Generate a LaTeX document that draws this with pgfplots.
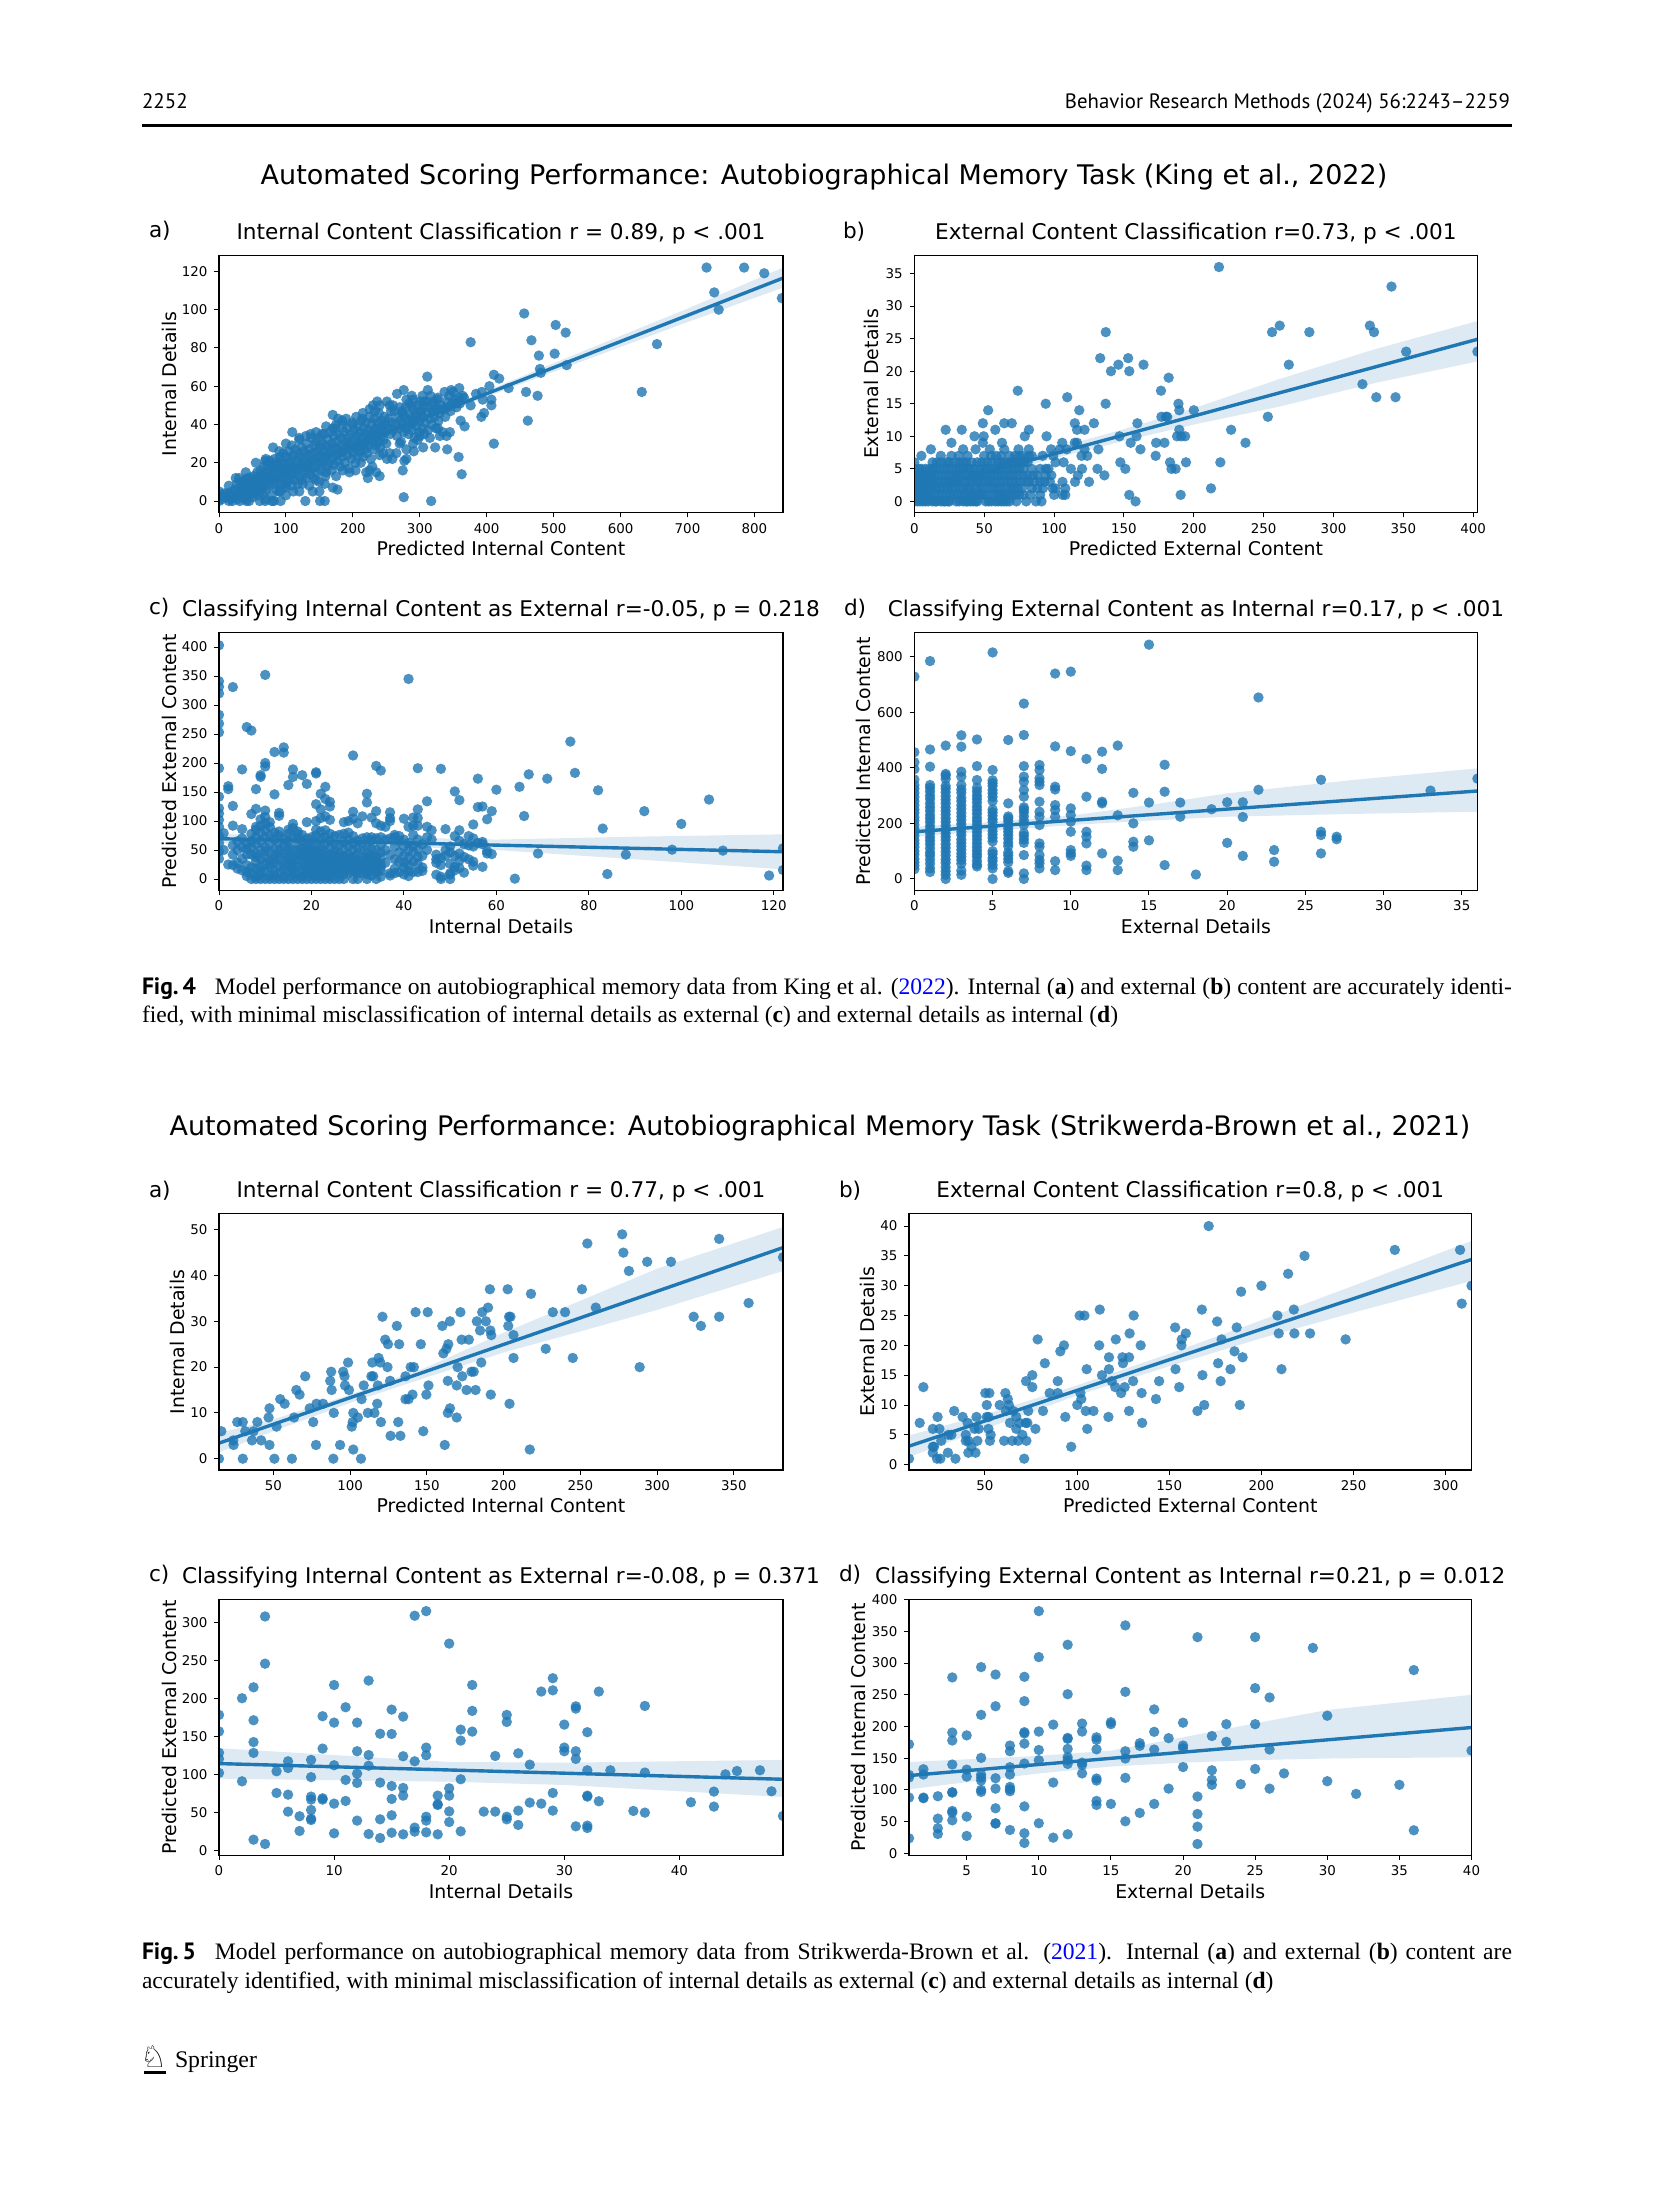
\documentclass[border=0pt]{standalone}
\usepackage{fontspec}
\usepackage{xcolor}
\usepackage{pgfplots}
\pgfplotsset{compat=1.18}
\setmainfont{DejaVu Sans}
\newfontfamily\capfont{Liberation Serif}
\newfontfamily\headfont{PT Sans}
\definecolor{sb}{HTML}{1F77B4}

% 1 reference pixel = 0.5pt
\pgfplotsset{
  sbax/.style={
    scale only axis,
    anchor=north west,
    axis on top,
    clip marker paths=true,
    tick align=outside,
    tick pos=left,
    major tick length=2.3pt,
    tick style={black,line width=0.5pt},
    axis line style={line width=0.6pt},
    /pgf/number format/assume math mode=true,
    tick label style={font=\fontsize{6.7}{8}\selectfont},
    xticklabel style={yshift=0.5pt},
    label style={font=\fontsize{9.45}{11}\selectfont},
    title style={font=\fontsize{10.8}{13}\selectfont,anchor=base,yshift=8pt},
    every axis title shift=0pt,
    xlabel style={at={(axis description cs:0.5,-0.167)},anchor=base},
  },
  pts/.style={only marks,mark=*,mark size=2.6pt,mark options={draw=sb,draw opacity=0,line width=0pt,fill=sb,fill opacity=0.8}},
  band/.style={draw=none,fill=sb,fill opacity=0.15,no marks},
  fit/.style={draw=sb,line width=1.7pt,no marks},
}

\begin{document}
\begin{tikzpicture}
\fill[white] (0,0) rectangle (827pt,-1098.5pt);
\path[use as bounding box] (0,0) rectangle (827pt,-1098.5pt);

% Fig 4 a
\begin{axis}[sbax,at={(109.5pt,-127.65pt)},width=282pt,height=128.7pt,
  xmin=0,xmax=842.7,ymin=-6.1,ymax=128.4,
  xtick={0,100,...,800},ytick={0,20,...,120},
  title={Internal Content Classification r = 0.89, p < .001},
  xlabel={Predicted Internal Content},ylabel={Internal Details},
  ylabel style={at={(axis description cs:-0.0762,0.5)},anchor=base}]
\addplot[pts] coordinates {
(728.5,122)(784.6,122)(814.7,119)(740,109)(841,106)(746.6,100)(456,98)(503,92)(518,88)(376,83)(466.8,84)(654.4,82)(478,76)(501.5,77)(519.5,71)(479.5,69)(480.8,67)(410.7,66)(418.7,64)(311.2,65)(432.7,59)(404,60)(458.8,57)(631.7,57)(476,55)(461.4,42)(410.7,30)(396,46)(392,44)(407,53)(407,50)(394,53)(384,56)(392.7,57)(359,59)(347,58)(337,57)(376,50)(366,54)(354,51)(361,42)(367,39)(345,36)(340,34)(330,34)(323,28)(341,27)(358,23)(362.6,14)(291,26)(277,21)(274.5,16)(276,2)(317,0)(240,13)(222.4,12)(225,16)(229,18)(251,22)(259,22)(270,30)(297,32)(307,35)(327,38)(276,58)(266,56)(288,55)(251,52)(236.4,52)(230,50)(233,47)(312,58)(304,55)(327,54)(320.5,52)(310,52)(307,50)(280,53)(287,50)(260,50)(257,47)(274,47)(300,47)(330,48)(320,47)(184,42)(170,45)(178,43)(200,40)(214,43)(170,38)(109.5,36)(137,35)(120,32)(153.6,35)(80.8,28)(108.8,29)(14.7,8)(25,12)(43,12)
(0,5)(0,0)(15,0)(20,0)(31,0)(41,0)(45,0)(61,0)(69,0)(79,0)(82,0)(92,0)(129,0)(151,0)(158,0)(140,5)(111,5)(90,5)(177,6)(170,7)(158,9)(150,10)
(100,8)(120,5)(125,9)(135,8)(145,11)(160,15)(175,13)(185,16)(195,15)(204,16)(212,20)(220,15)(150,5)(100,3)(70,1)(60,10)(40,15)(30,12)(55,20)(70,22)(90,26)(100,30)(120,33)(130,34)(145,36)(160,39)(175,40)(190,43)(205,44)(215,46)(225,48)(240,50)(255,50)(235,15)(240,24)(255,25)(265,25)(280,27)(290,30)(305,28)(315,33)(300,34)(270,49)(290,53)(300,52)(280,22)
(2,3)(5,1)(8,4)(10,2)(13,4)(16,3)(18,1)(20,5)(22,2)(24,6)(26,3)(27,9)(28,1)(30,7)(32,4)(33,10)(35,2)(36,8)(38,5)(39,11)(40,1)(42,9)(43,6)(44,3)(46,12)(47,8)(48,5)(49,10)(50,2)
(51,7)(52,13)(53,4)(54,9)(55,11)(56,6)(57,15)(58,3)(59,8)(60,12)(61,5)(62,16)(63,10)(64,7)(65,14)(66,4)(67,18)(68,11)(69,21)(70,9)(71,6)(72,15)(73,19)(74,13)(75,8)(76,21)(77,17)(78,11)(79,3)(80,14)(81,19)(82,9)(83,22)(84,16)(85,12)(86,6)(87,20)(88,10)(89,18)(90,14)
(91,5)(91,23)(92,12)(93,17)(94,21)(95,9)(96,25)(97,15)(98,19)(99,7)(100,13)(101,23)(102,10)(103,17)(104,26)(105,20)(106,12)(107,15)(108,22)(109,8)(110,18)(111,24)(112,14)(113,11)(114,27)(115,19)(116,16)(117,21)(118,9)(119,25)(120,13)(121,17)(122,23)(123,28)(124,11)(125,20)(126,15)(127,26)(128,18)(129,22)(130,12)
(131,30)(132,16)(133,24)(134,19)(135,27)(136,14)(137,21)(138,33)(139,17)(140,25)(141,12)(142,22)(143,29)(144,18)(145,31)(146,15)(147,26)(148,20)(149,23)(150,33)(151,28)(152,16)(153,24)(154,19)(155,30)(156,21)(157,35)(158,26)(159,13)(160,29)(161,23)(162,18)(163,32)(164,25)(165,20)(166,36)(167,27)(168,16)(169,30)(170,22)
(171,34)(172,19)(173,28)(174,38)(175,24)(176,31)(177,21)(178,27)(179,35)(180,25)(181,18)(182,33)(183,29)(184,23)(185,40)(186,26)(187,36)(188,20)(189,31)(190,28)(191,38)(192,24)(193,33)(194,17)(195,30)(196,27)(197,35)(198,22)(199,41)(200,29)(201,25)(202,37)(203,32)(204,20)(205,28)(206,34)(207,39)(208,24)(209,31)(210,26)
(211,36)(212,29)(213,42)(214,33)(215,23)(216,38)(217,30)(218,27)(219,35)(220,41)(221,25)(222,32)(223,37)(224,29)(225,44)(226,34)(227,22)(228,40)(229,31)(230,36)(231,27)(232,43)(233,33)(234,38)(235,29)(236,35)(237,41)(238,31)(239,46)(240,37)(241,28)(242,34)(243,42)(244,39)(245,25)(246,32)(247,44)(248,36)(249,40)(250,30)
(252,38)(254,43)(256,35)(258,41)(260,37)(262,47)(264,40)(266,34)(268,44)(270,38)(271,42)(272,31)(274,46)(275,40)(276,36)(278,44)(279,49)(280,38)(282,42)(283,35)(284,51)(285,45)(286,40)(288,37)(289,43)(290,48)(291,41)(292,33)(294,46)(295,39)(296,44)(298,50)(299,36)(300,42)
(302,47)(304,38)(305,44)(306,52)(308,41)(310,46)(312,37)(313,49)(315,43)(316,55)(318,40)(319,47)(320,51)(322,44)(324,38)(325,48)(326,53)(328,42)(330,46)(332,50)(334,36)(336,48)(338,44)(340,52)(342,49)(344,55)(346,47)(348,51)(350,57)(352,53)(355,49)(358,54)(360,51)(364,55)
};
\addplot[band] coordinates {(0,2.8)(100,16)(200,29.6)(300,43.4)(400,57.6)(500,72)(600,86.3)(700,100.5)(842.7,122)(842.7,111.5)(700,93.5)(600,80.5)(500,67.5)(400,54.5)(300,41.4)(200,27.9)(100,14.2)(0,0.2)};
\addplot[fit] coordinates {(0,1.5)(842.7,116.5)};
\end{axis}

% Fig 4 b
\begin{axis}[sbax,at={(457.2pt,-127.65pt)},width=281.5pt,height=128.7pt,
  xmin=0,xmax=403,ymin=-1.74,ymax=37.8,
  xtick={0,50,...,400},ytick={0,5,...,35},
  title={External Content Classification r=0.73, p < .001},
  xlabel={Predicted External Content},ylabel={External Details},
  ylabel style={at={(axis description cs:-0.064,0.5)},anchor=base}]
\addplot[pts] coordinates {
(218,36)(341.5,33)(326,27)(261.5,27)(256,26)(282.7,26)(329,26)(137,26)(352,23)(403,23)(133,22)(153,22)(146,21)(164,21)(268,21)(140.7,20)(153.8,20)(182,19)(320.7,18)(74,17)(176.5,17)(109.4,16)(330.6,16)(344.4,16)(94,15)(136.9,15)(189,15)(52.8,14)(118,14)(189.6,14)(200,14)(176.8,13)(180,13)(181,13)(253,13)(49,12)(64.3,12)(69.7,12)(114.8,12)(128.5,12)(159.6,12)(22.4,11)(33.9,11)(57.9,11)(82,11)(116.4,11)(121.8,11)(189.6,11)(226.7,11)(43,10)(49.6,10)(79,10)(94.6,10)(146.8,10)(159,10)(188,10)(191,10)(193.8,10)
(26.5,9)(49,9)(62.7,9)(105.8,9)(114.8,9)(116.4,9)(154.8,9)(173,9)(179,9)(237,9)
(11.8,8)(34.9,8)(43.8,8)(54,8)(64.3,8)(74.5,8)(81.9,8)(97.8,8)(104,8)(109,8)(121.8,8)(131.7,8)(161.8,8)
(5,7)(18.9,7)(26.5,7)(31.7,7)(49.9,7)(58.5,7)(72,7)(77.7,7)(81.9,7)(91.8,7)(99.4,7)(119.6,7)(123.7,7)(172.7,7)(38,7)(55,7)(62,7)(68,7)(75,7)(84,7)
(0,6)(13,6)(23,6)(32,6)(48,6)(59.5,6)(67.5,6)(78.7,6)(101,6)(106.8,6)(147.4,6)(183,6)(194.4,6)(219,6)(16,6)(19,6)(25,6)(29,6)(35,6)(37,6)(41,6)(45,6)(52,6)(55,6)(62,6)(64,6)(70,6)(72,6)(75,6)(81,6)
(0,5)(3,5)(5,5)(8,5)(11,5)(13,5)(15,5)(18,5)(21,5)(24,5)(27,5)(30,5)(33,5)(35,5)(38,5)(40,5)(43,5)(47,5)(50,5)(52,5)(56,5)(59,5)(62,5)(66,5)(69,5)(72,5)(75,5)(78,5)(84,5)(90,5)(94,5)(96,5)(112,5)(120,5)(131,5)(151,5)(184,5)(187,5)
(0,4)(2,4)(4,4)(6,4)(8,4)(10,4)(12,4)(14,4)(17,4)(20,4)(23,4)(26,4)(29,4)(31,4)(34,4)(37,4)(41,4)(44,4)(46,4)(48,4)(51,4)(54,4)(57,4)(60,4)(63,4)(65,4)(68,4)(71,4)(74,4)(78,4)(81,4)(85,4)(88,4)(94,4)(98,4)(117,4)(136,4)
(0,3)(1,3)(3,3)(5,3)(7,3)(9,3)(11,3)(13,3)(16,3)(19,3)(22,3)(25,3)(28,3)(30,3)(32,3)(36,3)(39,3)(42,3)(45,3)(47,3)(50,3)(53,3)(55,3)(58,3)(61,3)(64,3)(67,3)(70,3)(73,3)(76,3)(80,3)(82,3)(86,3)(90,3)(93,3)(97,3)(106,3)(115,3)(125,3)
(0,2)(2,2)(4,2)(6,2)(8,2)(10,2)(12,2)(15,2)(18,2)(21,2)(24,2)(27,2)(29,2)(33,2)(35,2)(38,2)(40,2)(44,2)(47,2)(49,2)(54,2)(56,2)(60,2)(62,2)(66,2)(69,2)(71,2)(74,2)(77,2)(84,2)(88,2)(92,2)(99,2)(101,2)(108,2)(212.3,2)
(0,1)(1,1)(3,1)(5,1)(7,1)(9,1)(11,1)(14,1)(17,1)(20,1)(23,1)(26,1)(28,1)(31,1)(34,1)(36,1)(39,1)(41,1)(43,1)(46,1)(48,1)(50,1)(52,1)(57,1)(59,1)(61,1)(63,1)(65,1)(67,1)(70,1)(72,1)(75,1)(78,1)(83,1)(90,1)(100,1)(106,1)(108,1)(153.8,1)(190.6,1)
(0,0)(2,0)(4,0)(6,0)(8,0)(10,0)(13,0)(15,0)(16,0)(19,0)(21,0)(22,0)(24,0)(25,0)(30,0)(32,0)(35,0)(37,0)(38,0)(40,0)(42,0)(44,0)(45,0)(51,0)(53,0)(55,0)(58,0)(60,0)(62,0)(64,0)(66,0)(68,0)(73,0)(80,0)(87,0)(91,0)(158.3,0)
};
\addplot[band] coordinates {(0,2.4)(100,8.1)(150,11.1)(200,14.3)(260,18.7)(330,23.4)(403,27.7)(403,21.5)(330,18.2)(260,14.5)(200,11.8)(150,9.3)(100,6.6)(0,0.6)};
\addplot[fit] coordinates {(0,1.5)(403,24.9)};
\end{axis}

% Fig 4 c
\begin{axis}[sbax,at={(109.5pt,-316.35pt)},width=282pt,height=128.8pt,
  xmin=0,xmax=122,ymin=-19.5,ymax=424.7,
  xtick={0,20,...,120},ytick={0,50,...,400},
  title={Classifying Internal Content as External r=-0.05, p = 0.218},
  xlabel={Internal Details},ylabel={Predicted External Content},
  ylabel style={at={(axis description cs:-0.0762,0.5)},anchor=base}]
\addplot[pts] coordinates {
(0,403)(0,341)(0,331.6)(0,320)(0,283)(0,268)(0,253)(0,191)(0,142)(0,122)(0,113)(0,102)(10,352)(3,331)(6,262)(7,256)(41,345)(14,227)(14,218)(12,219)(29,213)(10,200)(10,194)(5,189)(9,179)(9,176)(16,189)(16,176)(18,179)(21,184)(21,182)(34,195)(35,187)(43,191)(48,190)(76,237)(77,183)(67,180.5)(71,173)(56,173)(65,159)(60,154)(82,153)(106,137)(51,151)(52,136)(45,134)(92,117)(66,108.6)(100,95)(83,87)(59,117)(58,103)(57,125)(56,124)(55,94)(49,86)(43,120)(2,160)(2,155)(8,155)(15,162)(19,164)(23,159)(12,146)(22,147)(32,147)(32,132)(24,133)(23,138)(3,126)(21,129)(22,120)(24,125)(8,121)(10,118)(7,112)(13,114)(13,109)(29,116)(34,117)(37,115)(37,105)(3,92)(5,86)(1,79)(88,42)(69,44)(98,50.6)(109,49)(122,53)(119,6)(122,15.5)(84,8.6)(64,0.6)(57,21)(55,23)(53,11)(52,19)(51,21)(50,7.5)(50,0)(48,0)(47,7.5)
(0,35)(0,48)(0,62)(0,75)(0,90)(1,50)(2,25)(3,24)(3,42)(3,58)(4,18)(4,28)(4,50)(4,65)(5,15)(5,35)(5,55)(5,70)(6,5)(6,12)(6,24)(6,42)(6,52)(6,60)
(7,0)(7,10)(7,20)(7,42)(7,55)(7,65)(7,78)(8,0)(8,5)(8,18)(8,30)(8,44)(8,60)(8,72)(8,85)(8,90)(9,0)(9,8)(9,22)(9,35)(9,50)(9,65)(9,80)(9,92)(9,103)
(10,0)(10,12)(10,25)(10,38)(10,55)(10,72)(10,85)(10,96)(10,107)(11,0)(11,6)(11,20)(11,32)(11,46)(11,60)(11,75)(11,90)(11,98)(12,0)(12,14)(12,28)(12,40)(12,52)(12,68)(12,80)
(13,0)(13,10)(13,22)(13,36)(13,50)(13,62)(13,75)(13,82)(14,0)(14,5)(14,16)(14,30)(14,44)(14,58)(14,70)(15,0)(15,12)(15,26)(15,40)(15,55)(15,65)(15,78)(15,85)
(16,0)(16,8)(16,20)(16,36)(16,50)(16,72)(16,88)(16,95)(17,0)(17,42)(17,60)(17,70)(17,78)(17,82)(18,0)(18,5)(18,15)(18,30)(18,40)(18,52)(18,66)(18,76)
(19,0)(19,10)(19,22)(19,34)(19,46)(19,58)(19,70)(19,98)(20,0)(20,8)(20,18)(20,28)(20,38)(20,50)(20,62)(20,72)(21,0)(21,12)(21,24)(21,36)(21,48)(21,60)(21,75)(21,85)(21,100)
(22,0)(22,6)(22,16)(22,28)(22,42)(22,56)(22,70)(22,82)(22,105)(23,0)(23,10)(23,22)(23,34)(23,46)(23,60)(23,72)(23,84)(23,108)(24,0)(24,5)(24,18)(24,30)(24,42)(24,54)(24,66)(24,78)(24,102)
(25,0)(25,12)(25,26)(25,38)(25,48)(25,60)(25,74)(26,0)(26,8)(26,20)(26,32)(26,44)(26,58)(26,76)(27,0)(27,16)(27,28)(27,40)(27,52)(27,64)(27,78)(27,98)(28,10)(28,22)(28,36)(28,42)(28,56)(28,68)(28,80)(28,100)
(29,0)(29,14)(29,26)(29,38)(29,50)(29,62)(29,74)(29,104)(30,0)(30,10)(30,22)(30,32)(30,44)(30,54)(30,66)(30,96)(31,18)(31,30)(31,42)(31,58)(31,70)(31,108)(32,0)(32,8)(32,20)(32,32)(32,44)(32,56)(32,72)
(33,6)(33,16)(33,28)(33,40)(33,52)(33,66)(33,72)(33,106)(34,0)(34,12)(34,24)(34,38)(34,50)(34,70)(34,96)(35,4)(35,14)(35,26)(35,46)(35,60)(35,72)(35,92)(36,28)(36,50)(36,68)(36,90)(37,6)(37,10)(37,42)(37,70)(37,100)
(38,10)(38,18)(38,34)(38,56)(38,72)(38,76)(39,12)(39,30)(39,46)(39,66)(39,74)(40,8)(40,20)(40,28)(40,40)(40,56)(40,68)(40,104)(41,5)(41,14)(41,24)(41,36)(41,50)(41,62)(41,90)(42,12)(42,30)(42,46)(42,58)(42,76)(42,92)(42,106)
(43,12)(43,26)(43,38)(43,52)(43,68)(43,92)(43,105)(44,14)(44,20)(44,40)(44,60)(45,50)(45,72)(45,90)(46,68)(46,84)(47,28)(47,34)(47,42)(48,4)(48,24)(48,36)(49,40)(49,50)(50,10)(50,26)(50,46)(50,56)
(51,15)(51,40)(51,74)(52,32)(52,44)(52,66)(52,84)(53,38)(53,60)(54,34)(54,58)(54,74)(55,30)(55,56)(55,70)(56,62)(57,60)(57,64)(58,44)(58,48)(59,43)
(8,38)(9,14)(10,48)(11,26)(12,7)(12,34)(13,44)(14,23)(15,33)(15,48)(16,14)(16,28)(17,8)(17,22)(17,34)(17,50)(18,23)(18,46)(19,16)(19,40)(19,52)(20,13)(20,33)(20,44)(21,6)(21,30)(21,42)(22,22)(22,36)(22,48)(23,16)(23,28)(23,40)(24,12)(24,24)(24,36)(25,18)(25,32)(25,43)(26,14)(26,26)(26,38)(27,8)(27,22)(27,34)(28,16)(28,30)(29,20)(29,32)(30,16)(30,27)(31,10)(31,24)(32,14)(32,26)(32,38)(33,22)(33,34)(34,18)(34,30)(35,20)(35,36)
};
\addplot[band] coordinates {(0,77.6)(30,73)(60,68)(90,73)(122,77)(122,16.7)(90,34)(60,50)(30,58.6)(0,61.5)};
\addplot[fit] coordinates {(0,69.5)(122,47)};
\end{axis}

% Fig 4 d
\begin{axis}[sbax,at={(457.2pt,-316.35pt)},width=281.5pt,height=128.8pt,
  xmin=0,xmax=36,ymin=-40.8,ymax=886,
  xtick={0,5,...,35},ytick={0,200,...,800},
  title={Classifying External Content as Internal r=0.17, p < .001},
  xlabel={External Details},ylabel={Predicted Internal Content},
  ylabel style={at={(axis description cs:-0.078,0.5)},anchor=base}]
\addplot[pts] coordinates {
(0,728)(0,456)(0,420)(0,395)(0,358)(0,35)(0,48)(0,60)(0,72)(0,88)(0,100)(0,115)(0,128)(0,140)(0,155)(0,168)(0,180)(0,195)(0,210)(0,222)(0,238)(0,250)(0,265)(0,280)(0,295)(0,310)(0,325)(0,338)
(1,784)(1,466)(1,404)(1,25)(1,38)(1,55)(1,70)(1,85)(1,95)(1,110)(1,125)(1,138)(1,150)(1,165)(1,178)(1,190)(1,205)(1,218)(1,230)(1,245)(1,258)(1,272)(1,288)(1,300)(1,315)(1,328)(1,338)
(2,480)(2,0)(2,15)(2,28)(2,42)(2,58)(2,70)(2,85)(2,98)(2,112)(2,125)(2,140)(2,152)(2,165)(2,178)(2,192)(2,205)(2,218)(2,232)(2,245)(2,258)(2,272)(2,285)(2,298)(2,312)(2,325)(2,335)(2,360)(2,372)(2,378)
(3,517)(3,476)(3,386)(3,368)(3,15)(3,30)(3,55)(3,68)(3,80)(3,92)(3,105)(3,118)(3,130)(3,142)(3,158)(3,170)(3,185)(3,198)(3,212)(3,225)(3,238)(3,252)(3,265)(3,280)(3,292)(3,310)(3,322)(3,338)
(4,502)(4,406)(4,356)(4,45)(4,52)(4,65)(4,80)(4,90)(4,102)(4,115)(4,128)(4,142)(4,155)(4,168)(4,180)(4,195)(4,208)(4,220)(4,235)(4,248)(4,260)(4,275)(4,288)(4,300)(4,315)(4,328)
(5,815)(5,392)(5,0)(5,38)(5,50)(5,65)(5,75)(5,90)(5,100)(5,135)(5,148)(5,160)(5,172)(5,185)(5,205)(5,215)(5,228)(5,240)(5,250)(5,280)(5,295)(5,308)(5,320)(5,335)(5,345)(5,355)
(6,500)(6,272)(6,22)(6,28)(6,60)(6,72)(6,85)(6,95)(6,118)(6,130)(6,145)(6,158)(6,170)(6,182)(6,195)(6,208)(6,218)(6,225)
(7,631)(7,518)(7,406)(7,368)(7,350)(7,320)(7,296)(7,86)(7,20)(7,0)(7,130)(7,142)(7,155)(7,165)(7,195)(7,210)(7,225)(7,240)(7,250)(7,258)
(8,410)(8,392)(8,362)(8,350)(8,338)(8,278)(8,242)(8,224)(8,194)(8,128)(8,116)(8,86)(8,68)(8,56)(8,38)
(9,739)(9,477)(9,332)(9,322)(9,266)(9,248)(9,224)(9,64)(9,32)
(10,746)(10,460)(10,254)(10,230)(10,206)(10,170)(10,104)(10,92)(10,83)
(11,432)(11,296)(11,170)(11,152)(11,128)(11,48)(11,32)
(12,458)(12,396)(12,278)(12,272)(12,92)
(13,480)(13,229)(13,66)(13,32)
(14,310)(14,200)(14,134)(14,116)
(15,843)(15,275)(15,139)
(16,411)(16,314)(16,50)
(17,275)(17,224)(18,16)(19,251)(20,276)(20,130)(21,276)(21,223)(21,83)(22,653)(22,321)(23,104)(23,62)
(26,357)(26,170)(26,158)(26,92)(27,152)(27,143)(33,318)(36,361)
};
\addplot[band] coordinates {(0,188)(5,205)(10,228)(15,266)(20,308)(28,356)(36,398)(36,242)(28,234)(20,224)(15,210)(10,194)(5,173)(0,152)};
\addplot[fit] coordinates {(0,170)(36,316.5)};
\end{axis}

% Fig 5 a
\begin{axis}[sbax,at={(109.5pt,-606.85pt)},width=282pt,height=128.15pt,
  xmin=14.5,xmax=382,ymin=-2.47,ymax=53.5,
  xtick={50,100,...,350},ytick={0,10,...,50},
  title={Internal Content Classification r = 0.77, p < .001},
  xlabel={Predicted Internal Content},ylabel={Internal Details},
  ylabel style={at={(axis description cs:-0.062,0.5)},anchor=base}]
\addplot[pts] coordinates {
(14.5,0)(30,0)(50.6,0)(62,0)(89,0)(107,0)(16,6)(23.8,4)(24,3)(26.4,8)(30,8)(31.6,6)(37,6)(36,4)(42,4)(39.5,8)(47.4,3)(46.8,9)(47.4,11)(52,7)(54.4,13)(57.3,12)(63.4,9)(64.9,15)(67,14)(70.7,18)(73.6,11)(75.9,8)(77.7,3)(78,12)(82.3,12)(87,17)(87.6,19)(87.9,15)(89.3,10)(93.4,3)(95.4,19)(96.3,18)(96.6,16)(98.6,21)(99.2,15)(101,7)(101.6,8)(102,2)(102,10)(105,9)(107.4,13)(108.8,16)(111.5,10)(113.8,18)(115,18)(114.4,21)(115.8,10)(117.6,12)(118,16)(118.5,22)(119.6,21)(120,8)(121,31)(122.8,26)(124.6,25)(124.3,20)(126,17)(126.3,5)(130.4,29)(131.3,8)(131.9,25)(132.7,5)(136,18)(136,13)(138,13)(139.4,20)(140.6,14)(141.5,20)(142.6,32)(146,25)(147.6,6)(149.6,14)(150.5,32)(151,16)(160,29)(160.7,23)(161.6,3)(162.7,24)(163.9,25)(163.6,17)(163.6,10)(165,30)(165,11)(169.4,16)(169.4,9)(170,20)(171.8,32)(172.6,26)(173,18)(175.8,15)(177.3,26)(179,19)(180.5,19)(181.7,15)(182.5,30)(184.6,28)(185.4,21)(186,32)(188.4,30)(189.8,33)(191,37)(191.3,28)(191.9,27)(191.6,14)(202.6,37)(203,29)(203.5,31)(203.8,12)(204.4,31)(206.4,27)(206.4,22)(217,2)(217.8,36)(227.4,24)(232,32)(240,32)(245,22)(251,37)(254.5,47)(260,33)(277.2,49)(278,45)(281.6,41)(288.6,20)(293.5,43)(309,43)(323.8,31)(328.5,29)(340.4,48)(340.4,31)(359.6,34)(382,44)
};
\addplot[band] coordinates {(14.5,5.6)(50,8.6)(100,14)(150,20)(200,27.5)(250,34.5)(300,41.5)(382,50.6)(382,41)(300,32.5)(250,27.8)(200,23.2)(150,17.8)(100,12.2)(50,6)(14.5,1.4)};
\addplot[fit] coordinates {(14.5,3.4)(382,46.1)};
\end{axis}

% Fig 5 b
\begin{axis}[sbax,at={(454.5pt,-606.85pt)},width=281.25pt,height=128.15pt,
  xmin=8.8,xmax=314,ymin=-0.9,ymax=42.07,
  xtick={50,100,...,300},ytick={0,5,...,40},
  title={External Content Classification r=0.8, p < .001},
  xlabel={Predicted External Content},ylabel={External Details},
  ylabel style={at={(axis description cs:-0.0605,0.5)},anchor=base}]
\addplot[pts] coordinates {
(8.8,1)(14.6,7)(16.6,13)(21.7,2)(21.7,3)(22.4,3)(21.7,6)(25.3,6)(24.3,8)(24,1)(25.8,1)(26.3,4)(29.9,2)(30.1,5)(31.8,5)(33.3,9)(34,1)(37.9,8)(39.6,5)(39.6,4)(40.6,7)(41,4)(41,2)(42.7,3)(44.9,2)(44.4,6)(45.4,8)(45.9,4)(46.6,6)(50.2,12)(51,10)(51,8)(52,8)(51.9,6)(52.4,12)(52.7,4)(53.1,5)(58,10)(60.4,4)(61.1,12)(61.4,9)(62.4,11)(63,10)(63.6,7)(64.8,4)(65.3,9)(67,6)(67,8)(68,4)(68.7,7)(70.3,5)(71.3,1)(72,7)(72.3,14)(72.5,4)(73,7)(73.5,9)(75.7,13)(75.7,15)(77.4,6)(78.6,21)(81.5,9)(82.5,17)(85.1,12)(89.5,14)(89.5,12)(90.9,19)(92.9,20)(93.6,8)(96.8,3)(100.1,10)(101.4,25)(101.8,12)(102.3,11)(104,25)(104.7,9)(105.2,16)(105.5,6)(108.9,9)(112,20)(112.3,26)(113.5,15)(117,8)(117.3,16)(117.3,18)(118.8,14)(120.7,13)(121,21)(123.9,12)(124.6,18)(124.9,17)(125.8,13)(128.2,18)(128.2,9)(128.5,22)(130.4,14)(130.7,25)(134.5,20)(135,12)(135.3,7)(142.8,11)(144.5,14)(153.2,23)(153.4,16)(155.4,13)(156.6,20)(156.8,21)(159,22)(165.3,9)(167.7,26)(168,15)(169,10)(171.4,40)(176,24)(176.5,17)(177.9,14)(178.4,21)(183.2,16)(185.4,19)(186.6,23)(188.3,10)(189,29)(189.8,18)(200,30)(208.7,25)(209.4,22)(210.9,16)(214.5,32)(217.6,26)(217.9,22)(223.4,35)(226.4,22)(245.7,21)(272.4,36)(307.8,36)(308.7,27)(314,30)
};
\addplot[band] coordinates {(8.8,4.9)(50,8.4)(100,13.3)(150,18.6)(200,24.2)(250,30)(314,37.5)(314,30.8)(250,25.5)(200,21.2)(150,16.5)(100,11.6)(50,6)(8.8,1.3)};
\addplot[fit] coordinates {(8.8,3.1)(314,34.4)};
\end{axis}

% Fig 5 c
\begin{axis}[sbax,at={(109.5pt,-799.85pt)},width=282pt,height=127.8pt,
  xmin=0,xmax=49,ymin=-5.7,ymax=330,
  xtick={0,10,...,40},ytick={0,50,...,300},
  title={Classifying Internal Content as External r=-0.08, p = 0.371},
  xlabel={Internal Details},ylabel={Predicted External Content},
  ylabel style={at={(axis description cs:-0.0762,0.5)},anchor=base}]
\addplot[pts] coordinates {
(0,178.7)(0,157)(0,129)(0,121)(0,102.5)(2,200.6)(2,91.5)(3,215)(3,171.7)(3,143)(3,128.8)(3,14.9)(4,308)(4,246)(4,9.2)(5,104.7)(5,76.2)(6,117.8)(6,109)(6,74)(6,51.7)(7,45.6)(7,26.3)(8,119.6)(8,97)(8,71.4)(8,67.5)(8,53.9)(8,42.5)(8,40.7)(9,177)(9,134.5)(9,69.2)(9,67.5)(10,218)(10,168.6)(10,112.6)(10,62.2)(10,23.2)(11,188.8)(11,93.3)(11,65.7)(12,168.6)(12,131)(12,101.6)(12,89.4)(12,39.9)(13,223.8)(13,126)(13,112)(13,22.3)(14,154)(14,89.8)(14,41.6)(14,17)(15,185.7)(15,153.7)(15,85.4)(15,68.3)(15,46.9)(15,24)(16,176.5)(16,124.4)(16,82.8)(16,72.7)(16,21.9)(17,309)(17,117.8)(17,30.7)(17,25.4)(18,315)(18,135.8)(18,125.7)(18,45)(18,39.9)(18,24.5)(19,72.7)(19,61.3)(19,60.5)(19,21.9)(20,272.4)(20,82.3)(20,72.7)(20,52)(20,38)(21,159.4)(21,145)(21,94.2)(21,25.8)(22,218)(22,184)(22,156.8)(23,51.7)(24,124.8)(24,51.7)(25,178.7)(25,169.5)(25,45)(25,41.6)(26,128.3)(26,53)(26,34.2)(27,113.4)(27,63.5)(28,209.4)(28,62.2)(29,226.9)(29,211)(29,76.2)(29,53)(30,166)(30,135.8)(30,131)(31,190)(31,187)(31,131)(31,120.9)(31,32.4)(32,156)(32,106)(32,72.7)(32,71.4)(32,33.3)(32,30.2)(33,209.4)(33,65.3)(34,106)(36,52.6)(37,190.5)(37,103)(37,50.4)(41,64)(43,78)(43,58.3)(44,100.7)(45,105)(47,106)(48,78.4)(49,46)
};
\addplot[band] coordinates {(0,135)(10,126)(20,117)(30,116)(49,119.6)(49,71)(30,86.7)(20,91)(10,93)(0,95)};
\addplot[fit] coordinates {(0,114.8)(49,94.2)};
\end{axis}

% Fig 5 d
\begin{axis}[sbax,at={(454.5pt,-799.85pt)},width=281.25pt,height=127.8pt,
  xmin=1,xmax=40,ymin=-3.2,ymax=400,
  xtick={5,10,...,40},ytick={0,50,...,400},
  title={Classifying External Content as Internal r=0.21, p = 0.012},
  xlabel={External Details},ylabel={Predicted Internal Content},
  ylabel style={at={(axis description cs:-0.0782,0.5)},anchor=base}]
\addplot[pts] coordinates {
(1,172)(1,123.7)(1,119.5)(1,87.9)(1,23.7)(2,132.6)(2,124.2)(2,87.9)(2,86.8)(3,90)(3,54.7)(3,39.5)(3,30.5)(4,277.4)(4,190.5)(4,177.9)(4,140)(4,96.3)(4,95.8)(4,66.8)(4,64.2)(4,52)(5,186)(5,132)(5,121)(5,57.9)(5,27.4)(6,293.7)(6,218.4)(6,150.5)(6,124.2)(6,119.5)(6,114.7)(6,100)(6,96.8)(7,282)(7,232)(7,118.4)(7,102)(7,71)(7,47.4)(7,46.8)(8,170)(8,161)(8,135.8)(8,124.2)(8,104.7)(8,101)(8,97.9)(8,36.8)(9,278.4)(9,240)(9,191)(9,189)(9,173)(9,141.6)(9,74)(9,31.6)(9,16.3)(10,382)(10,309.5)(10,192)(10,163)(10,146.8)(10,47.4)(11,203)(11,111.6)(11,24.7)(12,329)(12,251)(12,182)(12,180.5)(12,164.7)(12,151.6)(12,147)(12,141)(12,30)(13,204.7)(13,192)(13,143)(13,139.5)(13,126)(14,183)(14,179)(14,164)(14,118)(14,114.7)(14,82.6)(14,76.3)(15,206.8)(15,203.7)(15,77.9)(16,359.5)(16,254.7)(16,161)(16,149.5)(16,119)(16,50.5)(17,173.7)(17,169.5)(17,63.7)(18,227)(18,191.6)(18,163.7)(18,77.9)(19,181.6)(19,102)(20,206)(20,170)(20,165.8)(20,136)(21,341)(21,89.5)(21,62)(21,42)(21,14.7)(22,185)(22,131)(22,115.8)(22,108)(23,203.7)(23,175.8)(24,109)(25,341)(25,260.5)(25,203.7)(25,133)(26,245.8)(26,163.7)(26,102)(27,126)(29,324)(30,217)(30,113.7)(32,93.7)(35,108)(36,289)(36,36.3)(40,162)
};
\addplot[band] coordinates {(1,144)(10,153.7)(15,162)(20,183)(25,205)(30,226)(40,250)(40,151.6)(30,149.5)(25,147)(20,143)(15,136.8)(10,126)(1,101)};
\addplot[fit] coordinates {(1,122.6)(40,198.4)};
\end{axis}

% page text, coordinates in reference pixels
\begin{scope}[x=0.5pt,y=-0.5pt,every node/.style={inner sep=0pt,outer sep=0pt}]
\fill[black] (142,124.4) rectangle (1512,127);
\node[anchor=base west] at (142,108) {\headfont\fontsize{10.5}{12}\selectfont 2252};
\node[anchor=base east] at (1510,108) {\headfont\fontsize{10.4}{12}\selectfont Behavior Research Methods (2024) 56:2243–2259};

\node[anchor=base] at (824,184) {\fontsize{13.5}{15}\selectfont Automated Scoring Performance: Autobiographical Memory Task (King et al., 2022)};
\node[anchor=base] at (820,1135) {\fontsize{13.45}{15}\selectfont Automated Scoring Performance: Autobiographical Memory Task (Strikwerda-Brown et al., 2021)};

\foreach \lx/\ly/\lt in {149/237/a),843/238/b),149/614/c),844/615/d),149/1197/a),839/1197/b),149/1581/c),839/1581/d)}
  \node[anchor=base west] at (\lx,\ly) {\fontsize{10.8}{13}\selectfont \lt};

\node[anchor=base west] at (142,994) {\makebox[685pt][s]{\fontsize{11.8}{14}\selectfont{\headfont\bfseries Fig.\,4}\hspace{0.8em}\capfont Model performance on autobiographical memory data from King et al. (\textcolor{blue}{2022}). Internal (\textbf{a}) and external (\textbf{b}) content are accurately identi-}};
\node[anchor=base west] at (142,1022.7) {\fontsize{11.78}{14}\selectfont\capfont fied, with minimal misclassification of internal details as external (\textbf{c}) and external details as internal (\textbf{d})};

\node[anchor=base west] at (142,1959.5) {\makebox[685pt][s]{\fontsize{11.8}{14}\selectfont{\headfont\bfseries Fig.\,5}\hspace{0.8em}\capfont Model performance on autobiographical memory data from Strikwerda-Brown et al. (\textcolor{blue}{2021}). Internal (\textbf{a}) and external (\textbf{b}) content are}};
\node[anchor=base west] at (142,1988) {\fontsize{11.77}{14}\selectfont\capfont accurately identified, with minimal misclassification of internal details as external (\textbf{c}) and external details as internal (\textbf{d})};

\node[anchor=base west] at (140,2067) {\fontsize{15}{16}\selectfont ♘};
\fill[black] (144,2071) rectangle (166,2073.5);
\node[anchor=base west] at (175,2067) {\fontsize{11.9}{15}\selectfont\capfont Springer};
\end{scope}
\end{tikzpicture}
\end{document}
